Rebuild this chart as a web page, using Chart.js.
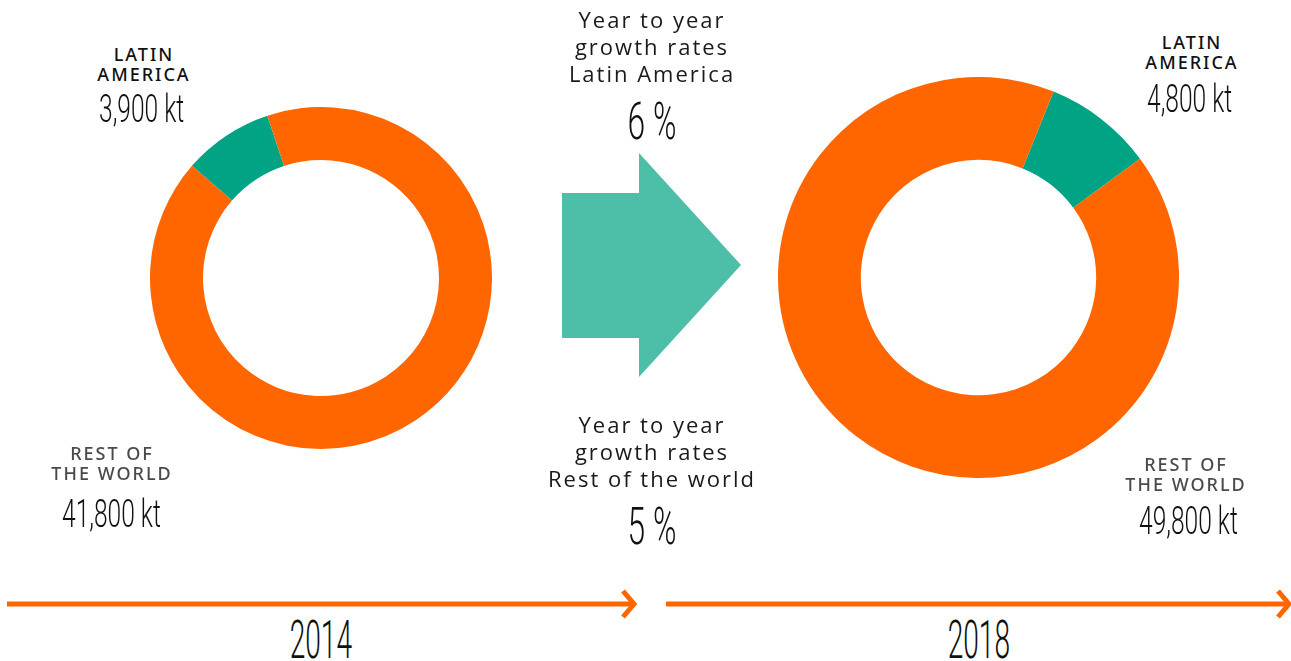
<!DOCTYPE html>
<html>
<head>
<meta charset="utf-8">
<script src="https://cdn.jsdelivr.net/npm/chart.js@4"></script>
<style>
    html, body { margin: 0; padding: 0; background: #fff; }
    #page { position: relative; width: 1291px; height: 661px; overflow: hidden; }
    canvas.donut { position: absolute; }
    .lbl, .num, .mid, .year { position: absolute; width: 300px; text-align: center; white-space: nowrap; }
    .lbl { font-family: "Noto Sans", sans-serif; font-weight: 500; font-size: 18px; line-height: 20px; letter-spacing: 2px; padding-left: 2px; color: #111; }
    .lbl.grey { color: #4a4a4a; }
    .num, .year, .pct { font-family: Roboto, sans-serif; font-weight: 300; color: #111; }
    .num span, .year span, .pct span { display: inline-block; }
    .num { font-size: 39px; line-height: 40px; }
    .num span { transform: scaleX(0.63); }
    .year { font-size: 53px; line-height: 56px; }
    .year span { transform: scaleX(0.53); }
    .mid { font-family: "Open Sans", sans-serif; font-size: 22px; line-height: 27px; letter-spacing: 2px; color: #1a1a1a; }
    .mid .pct { font-size: 52px; line-height: 54px; display: block; margin-top: 8px; letter-spacing: 0; }
    .pct span { transform: scaleX(0.61); }
    svg { position: absolute; left: 0; top: 0; }
</style>
</head>
<body>
<div id="page">
    <svg width="1291" height="661">
        <!-- growth arrow -->
        <polygon points="562,193 639,193 639,153 741,265 639,377 639,338 562,338" fill="#4dbea8"/>
        <!-- timelines -->
        <line x1="7" y1="604" x2="633" y2="604" stroke="#ff6600" stroke-width="5"/>
        <polyline points="623,591 634,604 623,617" fill="none" stroke="#ff6600" stroke-width="5"/>
        <line x1="666" y1="604" x2="1288" y2="604" stroke="#ff6600" stroke-width="5"/>
        <polyline points="1278,591 1289,604 1278,617" fill="none" stroke="#ff6600" stroke-width="5"/>
    </svg>

    <canvas id="donut2014" class="donut" width="342" height="342" style="left:150px;top:107px"></canvas>
    <canvas id="donut2018" class="donut" width="401" height="401" style="left:778px;top:77px"></canvas>

    <div class="lbl" style="left:-8px;top:44px">LATIN<br>AMERICA</div>
    <div class="num" id="lat2014" style="left:-8px;top:89px"></div>
    <div class="lbl grey" style="left:-40px;top:443px">REST OF<br>THE WORLD</div>
    <div class="num" id="row2014" style="left:-39px;top:494px"></div>

    <div class="lbl" style="left:1040px;top:32px">LATIN<br>AMERICA</div>
    <div class="num" id="lat2018" style="left:1040px;top:79px"></div>
    <div class="lbl grey" style="left:1034px;top:454px">REST OF<br>THE WORLD</div>
    <div class="num" id="row2018" style="left:1038px;top:501px"></div>

    <div class="mid" style="left:502px;top:6px">Year to year<br>growth rates<br>Latin America<div class="pct" id="gLat"></div></div>
    <div class="mid" style="left:502px;top:411px">Year to year<br>growth rates<br>Rest of the world<div class="pct" id="gRow"></div></div>

    <div class="year" id="y2014" style="left:171px;top:612px"></div>
    <div class="year" id="y2018" style="left:829px;top:612px"></div>
</div>

<script>
// values in kt
const years = ["2014", "2018"];
const regions = ["Latin America", "Rest of the world"];
const latinAmerica = [3900, 4800];
const restOfWorld = [41800, 49800];
const growthRates = [6, 5]; // % per year: Latin America, Rest of the world

const GREEN = "#00a383";
const ORANGE = "#ff6600";

const fmt = v => v.toLocaleString("en-US") + " kt";
const setNum = (id, text) => { document.getElementById(id).innerHTML = "<span>" + text + "</span>"; };

setNum("lat2014", fmt(latinAmerica[0]));
setNum("row2014", fmt(restOfWorld[0]));
setNum("lat2018", fmt(latinAmerica[1]));
setNum("row2018", fmt(restOfWorld[1]));
setNum("gLat", growthRates[0] + " %");
setNum("gRow", growthRates[1] + " %");
setNum("y2014", years[0]);
setNum("y2018", years[1]);

function makeDonut(id, i, cutout, rotation) {
    const ctx = document.getElementById(id).getContext("2d");
    return new Chart(ctx, {
        type: "doughnut",
        data: {
            labels: regions,
            datasets: [{
                data: [latinAmerica[i], restOfWorld[i]],
                backgroundColor: [GREEN, ORANGE],
                borderWidth: 0,
            }],
        },
        options: {
            responsive: false,
            animation: false,
            cutout: cutout,
            rotation: rotation,
            layout: { padding: 0 },
            plugins: {
                legend: { display: false },
                tooltip: { enabled: false },
            },
        },
    });
}

makeDonut("donut2014", 0, "69%", -49);
makeDonut("donut2018", 1, "58.7%", 22);
</script>
</body>
</html>
